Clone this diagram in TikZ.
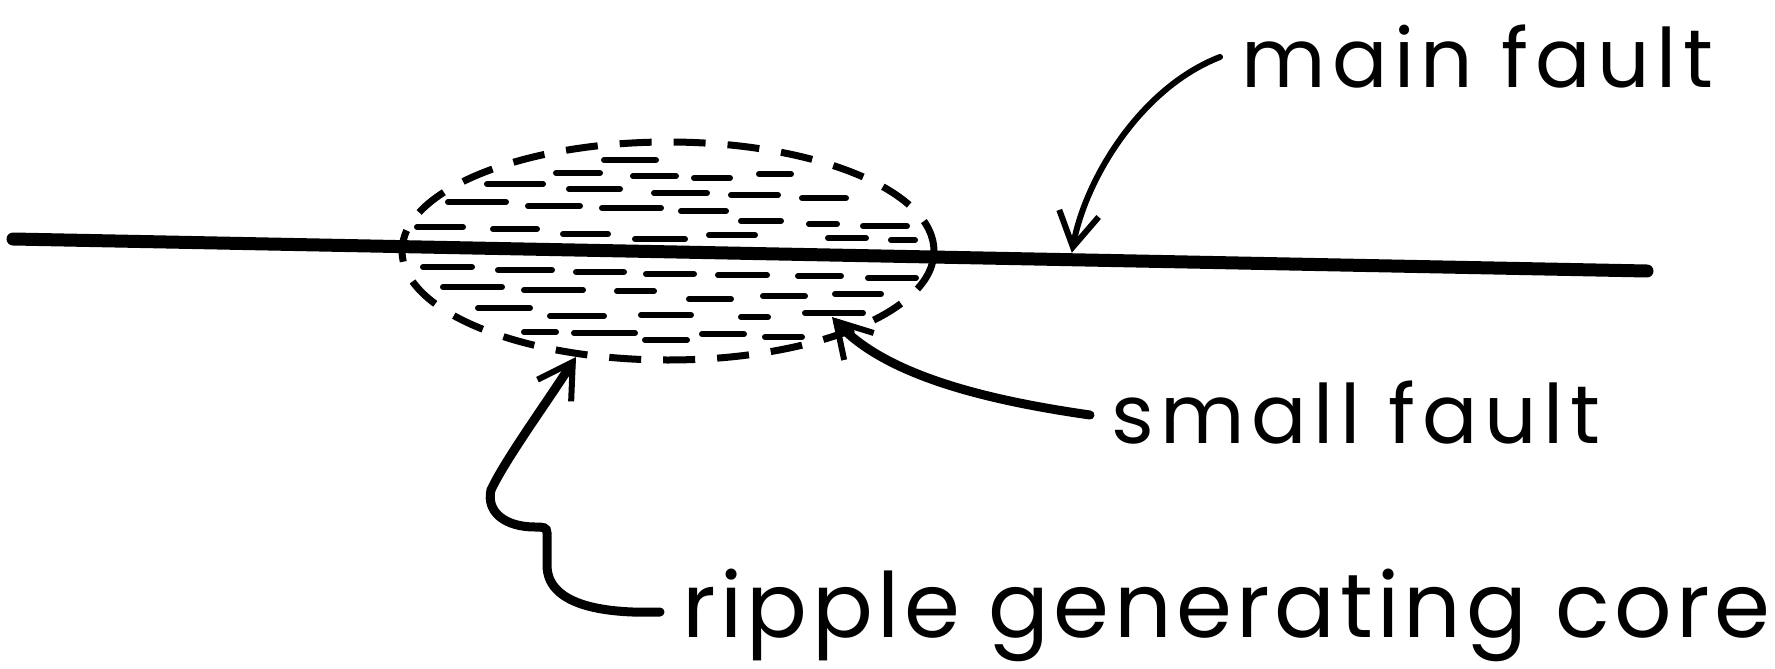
\documentclass[tikz,border=0pt]{standalone}
\usepackage{fontspec}
\setmainfont{Poppins}
\newfontfamily\faultfont[LetterSpace=8]{Poppins}
\newfontfamily\corefont[LetterSpace=5]{Poppins}
\usepackage{tikz}
\usetikzlibrary{arrows.meta,calc,shapes.geometric}
\tikzset{
  faultLine/.style={line width=13pt, line cap=round},
  coreOutline/.style={draw, ellipse, line width=7pt, dash pattern=on 32pt off 22pt, minimum width=532pt, minimum height=218pt, inner sep=0pt},
  coreDash/.style={line width=6pt, line cap=round},
  faultArrow/.style={-{Straight Barb[length=34pt, width=40pt, line width=6pt]}, line width=6pt, line cap=round},
  coreArrow/.style={faultArrow, line width=9pt},
  faultLabel/.style={anchor=base west, inner sep=0pt, font=\faultfont\fontsize{82}{96}\selectfont},
  coreLabel/.style={faultLabel, font=\corefont\fontsize{90}{104}\selectfont}
}

\begin{document}
\begin{tikzpicture}[x=1pt, y=-1pt]
  \useasboundingbox (0,0) rectangle (1775,669);
  % fault and core
  \coordinate (faultW) at (13,239);
  \coordinate (faultE) at (1647,271);
  \node[coreOutline] (core) at (668,251) {};
  \foreach \xa/\xb/\yy in {604/656/160, 556/600/173, 633/676/176, 694/730/178, 759/791/174,
      487/543/184, 569/620/189, 654/707/193, 731/778/195, 802/846/198,
      448/506/202, 528/580/206, 602/661/208, 681/726/211,
      741/781/221, 809/837/224, 863/907/226, 417/463/227, 493/537/229, 563/608/234,
      635/685/239, 709/755/235, 828/866/238, 891/915/240,
      423/472/267, 498/552/270, 576/624/272, 646/694/274, 718/767/275, 798/841/276, 868/916/278,
      443/502/287, 524/583/290, 617/654/291, 689/731/299, 763/805/296, 835/881/294,
      478/530/308, 550/604/316, 641/691/315, 741/768/317, 805/863/313,
      524/556/332, 574/635/333, 645/687/340, 702/744/334, 765/802/337}
    \draw[coreDash] (\xa,\yy) -- (\xb,\yy);
  \draw[faultLine] (faultW) -- (faultE);
  % labels
  \node[faultLabel] (mainLbl) at (1241,88) {main fault};
  \node[faultLabel] (smallLbl) at (1111,443) {small fault};
  \node[coreLabel] (rippleLbl) at (682,637) {ripple generating core};
  % arrows
  \coordinate (mainTail) at (1220,57);
  \coordinate (mainTip) at ($(faultW)!0.648!(faultE)+(0,-7)$);
  \coordinate (smallTail) at (1090,415);
  \coordinate (smallTip) at (832,317);
  \coordinate (rippleTail) at (660,612);
  \coordinate (rippleTip) at (576,357);
  \draw[faultArrow] (mainTail) .. controls (1140,88) and (1085,180) .. (mainTip);
  \draw[coreArrow] (smallTail) .. controls (985,400) and (885,375) .. (smallTip);
  \draw[coreArrow] (rippleTail) .. controls (600,614) and (547,604) .. (547,565) -- (547,533)
    .. controls (547,527) and (543,527) .. (535,527)
    .. controls (505,527) and (486,512) .. (491,490)
    .. controls (505,460) and (545,405) .. (rippleTip);
\end{tikzpicture}
\end{document}
